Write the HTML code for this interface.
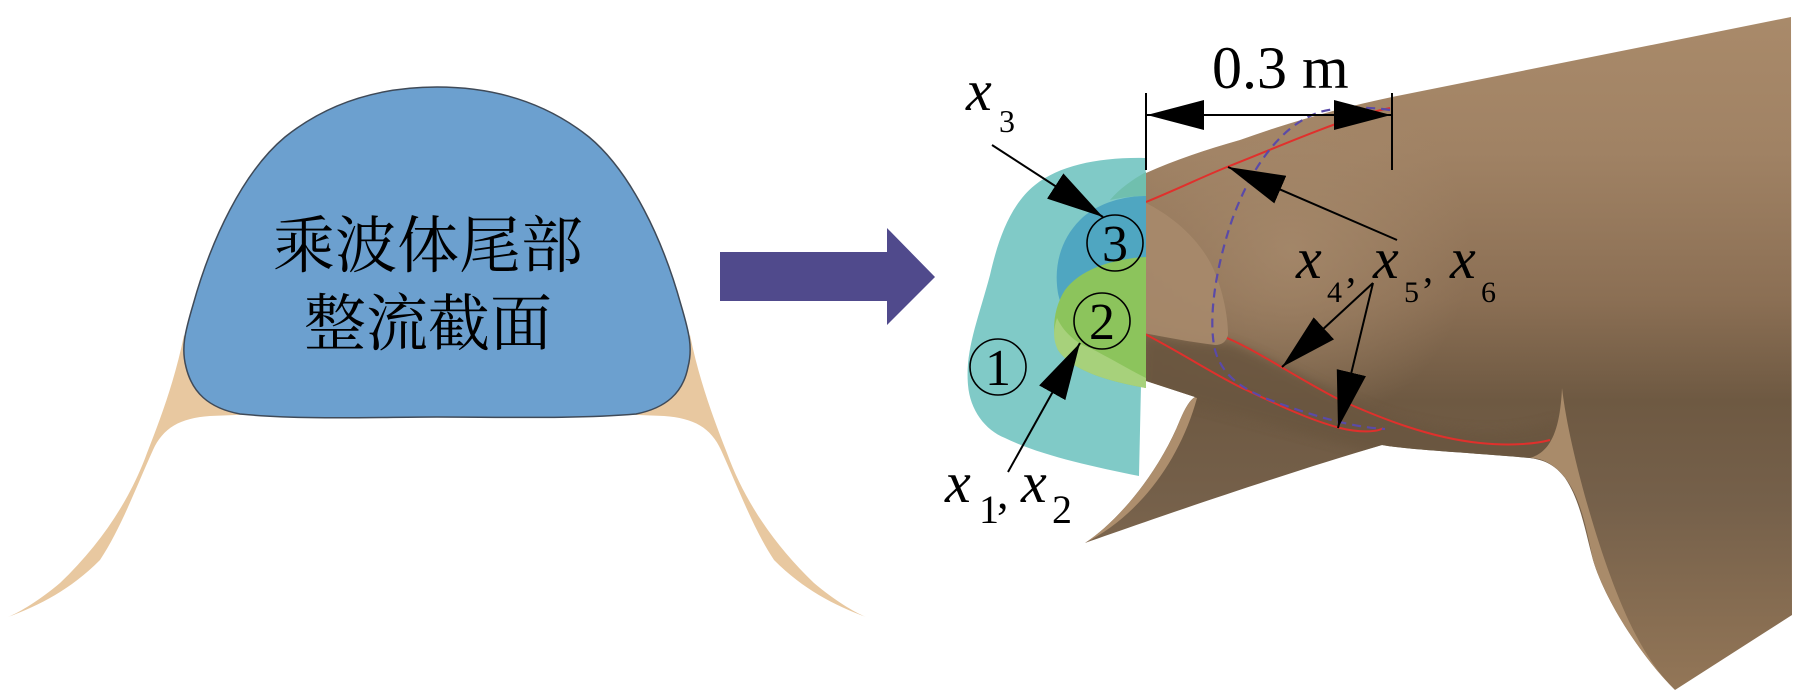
<!DOCTYPE html>
<html>
<head>
<meta charset="utf-8">
<style>
  html,body{margin:0;padding:0;background:#fff;}
  svg{display:block;}
</style>
</head>
<body>
<svg width="1819" height="696" viewBox="0 0 1819 696" xmlns="http://www.w3.org/2000/svg">
  <defs>
    <marker id="ah" viewBox="0 -15 57 30" refX="57" refY="0" markerWidth="57" markerHeight="30" markerUnits="userSpaceOnUse" orient="auto">
      <path d="M0,-15 L57,0 L0,15 Z" fill="#000"/>
    </marker>
    <linearGradient id="bodyg" gradientUnits="userSpaceOnUse" x1="0" y1="17" x2="0" y2="690">
      <stop offset="0" stop-color="#a98a6a"/>
      <stop offset="0.2" stop-color="#a08264"/>
      <stop offset="0.42" stop-color="#8b6f54"/>
      <stop offset="0.57" stop-color="#6e5942"/>
      <stop offset="0.72" stop-color="#75604a"/>
      <stop offset="1" stop-color="#937657"/>
    </linearGradient>
    <radialGradient id="hl" gradientUnits="userSpaceOnUse" cx="1290" cy="250" r="180">
      <stop offset="0" stop-color="#a78a6c" stop-opacity="0.8"/>
      <stop offset="1" stop-color="#a78a6c" stop-opacity="0"/>
    </radialGradient>
    <clipPath id="bodyclip">
      <path d="M1146,173 C1175,160 1205,150 1240,140 C1290,122 1340,108 1392,97 L1791,17 L1792,615 L1675,690 C1640,655 1605,600 1593,560 C1585,530 1580,500 1565,478 C1555,465 1545,460 1530,458 C1460,452 1410,450 1382,445 C1280,475 1150,520 1085,543 C1120,520 1160,470 1180,420 C1185,408 1190,400 1195,397 L1143,380 Z"/>
    </clipPath>
    <filter id="blur4" x="-20%" y="-20%" width="140%" height="140%">
      <feGaussianBlur stdDeviation="5"/>
    </filter>
  </defs>

  <rect width="1819" height="696" fill="#fff"/>

  <!-- LEFT FIGURE -->
  <g id="wing">
    <path fill="#e8c8a0" d="M184,335 C175,380 160,420 147,453 C130,500 100,545 60,583 C40,600 20,612 8,617 C40,605 70,590 100,560 C120,530 135,490 153,450 C163,428 180,418 210,416 L260,414 L200,380 Z"/>
  </g>
  <use href="#wing" transform="translate(874,0) scale(-1,1)"/>
  <path fill="#6ca0cf" stroke="#3f4a58" stroke-width="1.5"
        d="M437,87 C375,87 325,105 285,137 C243,172 211,240 193,305 C185,332 181,348 186,367 C192,392 208,408 240,414 C300,420 380,417 437,417 C500,417 580,419 636,414 C666,408 683,393 688,367 C693,348 689,332 681,305 C663,240 631,172 589,137 C549,105 499,87 437,87 Z"/>
  <text x="428" y="267" text-anchor="middle" font-size="62" fill="#000" style="font-family:'Liberation Serif','Noto Serif CJK SC','Noto Sans CJK SC',serif;">乘波体尾部</text>
  <text x="428" y="345" text-anchor="middle" font-size="62" fill="#000" style="font-family:'Liberation Serif','Noto Serif CJK SC','Noto Sans CJK SC',serif;">整流截面</text>

  <!-- BIG ARROW -->
  <polygon fill="#504a8c" points="720,252 887,252 887,228 935,277 887,325 887,301 720,301"/>

  <!-- RIGHT BODY -->
  <path fill="url(#bodyg)" d="M1146,173 C1175,160 1205,150 1240,140 C1290,122 1340,108 1392,97 L1791,17 L1792,615 L1675,690 C1640,655 1605,600 1593,560 C1585,530 1580,500 1565,478 C1555,465 1545,460 1530,458 C1460,452 1410,450 1382,445 C1280,475 1150,520 1085,543 C1120,520 1160,470 1180,420 C1185,408 1190,400 1195,397 L1143,380 Z"/>
  <g clip-path="url(#bodyclip)">
    <rect x="1100" y="60" width="400" height="380" fill="url(#hl)"/>
    <path fill="#6a5641" opacity="0.9" filter="url(#blur4)" d="M1143,335 C1180,340 1210,344 1228,342 C1270,357 1320,388 1380,412 C1440,432 1500,438 1558,420 L1560,470 C1480,462 1430,460 1382,455 L1195,405 L1140,390 Z"/>
    <!-- nose -->
    <path fill="#a78a6c" opacity="0.9" d="M1146,203 C1170,215 1195,235 1210,262 C1222,285 1228,315 1228,335 C1226,342 1222,345 1215,345 C1190,342 1165,337 1143,333 Z"/>
    <!-- left fin light strip -->
    <path fill="#ad8e6d" d="M1184,394 L1197,398 C1180,460 1140,515 1085,543 C1120,515 1165,460 1184,394 Z"/>
    <!-- right fin light strip -->
    <path fill="#a98b6a" d="M1562,388 C1568,440 1590,520 1610,575 C1630,630 1650,665 1675,690 C1640,660 1600,600 1593,560 C1585,520 1578,490 1560,472 C1550,462 1540,458 1530,458 C1550,452 1560,432 1562,388 Z"/>
  </g>

  <!-- red lines -->
  <g fill="none" stroke="#e0302c" stroke-width="2">
    <path d="M1146,202 C1180,188 1200,178 1227,167 C1270,150 1300,137 1333,125 C1355,117 1375,111 1390,108"/>
    <path d="M1227,338 C1260,352 1300,380 1340,400 C1380,418 1430,438 1480,443 C1510,446 1535,444 1550,440"/>
    <path d="M1143,333 C1180,352 1210,372 1240,387 C1280,406 1310,420 1340,428 C1360,433 1378,432 1383,428"/>
  </g>
  <!-- dashed blue -->
  <path fill="none" stroke="#5a4aa8" stroke-width="2.2" stroke-dasharray="9 6" d="M1390,110 C1370,107 1340,106 1320,112 C1280,125 1250,170 1232,220 C1215,270 1208,320 1215,350 C1222,375 1240,388 1270,400 C1310,415 1350,427 1385,429"/>

  <!-- CYAN SECTION -->
  <path fill="#80cac7" d="M1146,158 C1100,157 1060,165 1035,185 C1010,205 998,240 990,275 C978,320 965,350 968,385 C970,410 985,430 1005,438 C1040,455 1090,466 1139,476 Z"/>
  <path fill="#4fa6c1" d="M1146,196 C1120,196 1095,205 1080,220 C1062,238 1055,262 1057,285 C1058,298 1061,305 1066,310 L1146,300 Z"/>
  <path fill="#70bfae" d="M1146,172 C1135,178 1120,188 1110,200 C1125,197 1135,196 1146,196 Z"/>
  <path fill="#8cc45c" d="M1146,257 C1110,259 1080,270 1065,290 C1052,310 1052,335 1058,350 C1070,368 1100,380 1146,388 Z"/>
  <path fill="#a7d17b" d="M1057,318 C1065,335 1080,345 1090,348 C1110,358 1130,370 1146,378 L1146,388 C1100,380 1070,368 1058,350 C1053,340 1053,330 1057,318 Z"/>

  <!-- circled numbers -->
  <g fill="none" stroke="#000" stroke-width="1.6">
    <circle cx="1115" cy="243" r="28"/>
    <circle cx="1102" cy="321" r="28"/>
    <circle cx="998" cy="367" r="28"/>
  </g>
  <g font-size="52" text-anchor="middle" fill="#000">
    <text x="1115" y="261" style="font-family:'Liberation Serif','Times New Roman',serif;">3</text>
    <text x="1102" y="339" style="font-family:'Liberation Serif','Times New Roman',serif;">2</text>
    <text x="998" y="385" style="font-family:'Liberation Serif','Times New Roman',serif;">1</text>
  </g>

  <!-- dimension -->
  <g stroke="#000" stroke-width="2" fill="none">
    <line x1="1146" y1="93" x2="1146" y2="170"/>
    <line x1="1392" y1="93" x2="1392" y2="170"/>
    <line x1="1270" y1="115" x2="1147" y2="115" marker-end="url(#ah)"/>
    <line x1="1270" y1="115" x2="1391" y2="115" marker-end="url(#ah)"/>
  </g>
  <text x="1212" y="88" font-size="60" fill="#000" style="font-family:'Liberation Serif','Times New Roman',serif;">0.3 m</text>

  <!-- leader arrows -->
  <g stroke="#000" stroke-width="2" fill="none">
    <line x1="992" y1="145" x2="1103" y2="217" marker-end="url(#ah)"/>
    <line x1="1008" y1="472" x2="1080" y2="343" marker-end="url(#ah)"/>
    <line x1="1397" y1="240" x2="1228" y2="167" marker-end="url(#ah)"/>
    <line x1="1373" y1="283" x2="1282" y2="367" marker-end="url(#ah)"/>
    <line x1="1373" y1="283" x2="1338" y2="428" marker-end="url(#ah)"/>
  </g>

  <!-- labels -->
  <g fill="#000">
    <text x="966" y="110" font-size="58" style="font-family:'Liberation Serif','Times New Roman',serif;font-style:italic;">x</text>
    <text x="999" y="132" font-size="32" style="font-family:'Liberation Serif','Times New Roman',serif;">3</text>

    <text x="945" y="502" font-size="58" style="font-family:'Liberation Serif','Times New Roman',serif;font-style:italic;">x</text>
    <text x="979" y="523" font-size="40" style="font-family:'Liberation Serif','Times New Roman',serif;">1</text>
    <text x="997" y="508" font-size="46" style="font-family:'Liberation Serif','Times New Roman',serif;">,</text>
    <text x="1021" y="502" font-size="58" style="font-family:'Liberation Serif','Times New Roman',serif;font-style:italic;">x</text>
    <text x="1052" y="523" font-size="40" style="font-family:'Liberation Serif','Times New Roman',serif;">2</text>

    <text x="1296" y="278" font-size="58" style="font-family:'Liberation Serif','Times New Roman',serif;font-style:italic;">x</text>
    <text x="1327" y="302" font-size="30" style="font-family:'Liberation Serif','Times New Roman',serif;">4</text>
    <text x="1346" y="282" font-size="40" style="font-family:'Liberation Serif','Times New Roman',serif;">,</text>
    <text x="1373" y="278" font-size="58" style="font-family:'Liberation Serif','Times New Roman',serif;font-style:italic;">x</text>
    <text x="1404" y="302" font-size="30" style="font-family:'Liberation Serif','Times New Roman',serif;">5</text>
    <text x="1423" y="282" font-size="40" style="font-family:'Liberation Serif','Times New Roman',serif;">,</text>
    <text x="1450" y="278" font-size="58" style="font-family:'Liberation Serif','Times New Roman',serif;font-style:italic;">x</text>
    <text x="1481" y="302" font-size="30" style="font-family:'Liberation Serif','Times New Roman',serif;">6</text>
  </g>
</svg>
</body>
</html>
